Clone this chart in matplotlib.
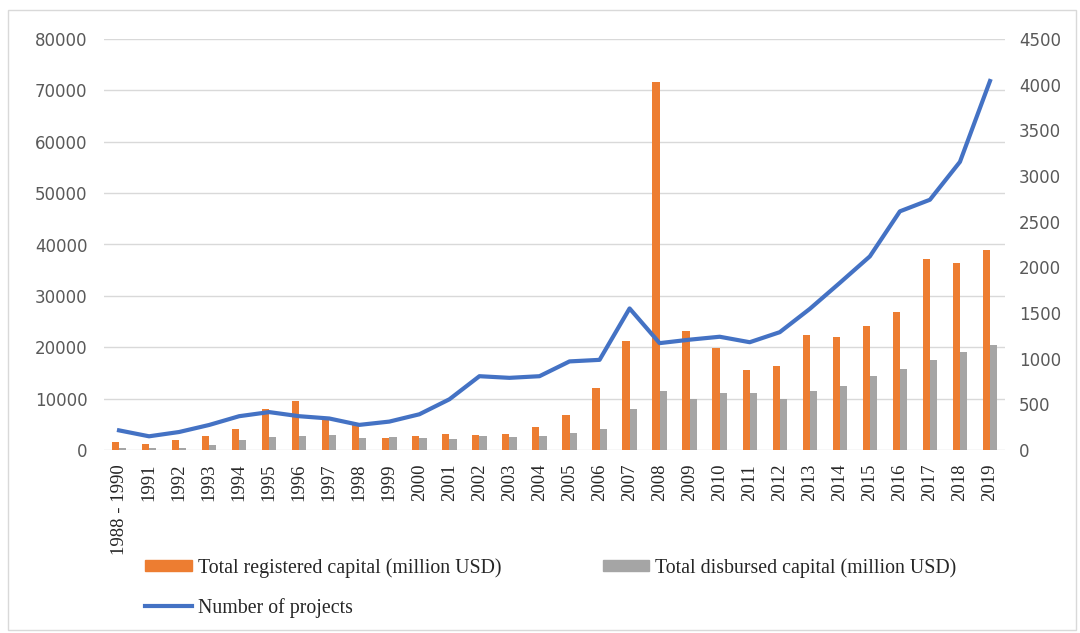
import matplotlib
matplotlib.use("Agg")
import matplotlib.pyplot as plt
import numpy as np
from matplotlib.lines import Line2D
from matplotlib.patches import Patch, Rectangle

years = ["1988 - 1990"] + [str(y) for y in range(1991, 2020)]
registered = [1600, 1200, 2000, 2800, 4100, 7900, 9600, 5800, 5100, 2300,
              2800, 3200, 2900, 3100, 4500, 6800, 12000, 21300, 71700, 23100,
              19900, 15600, 16300, 22400, 21900, 24100, 26900, 37100, 36400, 38900]
disbursed = [300, 300, 400, 1000, 2000, 2600, 2700, 3000, 2300, 2500,
             2400, 2200, 2800, 2600, 2800, 3300, 4100, 8000, 11500, 10000,
             11000, 11000, 10000, 11500, 12500, 14500, 15800, 17500, 19100, 20400]
projects = [215, 150, 197, 274, 370, 415, 370, 345, 275, 311,
            391, 555, 808, 790, 808, 970, 987, 1550, 1170, 1208,
            1240, 1180, 1290, 1545, 1830, 2120, 2613, 2740, 3155, 4040]

ORANGE = "#ED7D31"
GRAY = "#A5A5A5"
BLUE = "#4472C4"
TXT = "#595959"

fig = plt.figure(figsize=(10.8, 6.33), dpi=100)
fig.patches.append(Rectangle((8/1080, 3/633), 1 - 12/1080, 1 - 13/633,
                             transform=fig.transFigure, fill=False,
                             edgecolor="#D9D9D9", linewidth=1.0))
ax = fig.add_axes([104/1080, 1 - 450/633, (1005 - 104)/1080, (450 - 39)/633])
x = np.arange(len(years))
w = 0.24
ax.bar(x - w/2, registered, width=w, color=ORANGE, zorder=2)
ax.bar(x + w/2, disbursed, width=w, color=GRAY, zorder=2)
ax.set_xlim(-0.5, len(years) - 0.5)
ax.set_ylim(0, 80000)
ax.set_yticks(np.arange(0, 80001, 10000))
ax.yaxis.grid(True, color="#D9D9D9", linewidth=1.0, zorder=0)
ax.set_axisbelow(True)
for s in ax.spines.values():
    s.set_visible(False)
ax.tick_params(axis="y", length=0, labelsize=12, labelcolor=TXT, pad=12)
ax.tick_params(axis="x", length=0, pad=10)
ax.set_xticks(x)
ax.set_xticklabels(years, rotation=90, fontfamily="Liberation Serif",
                   fontsize=13.5, color="#262626")

ax2 = ax.twinx()
ax2.plot(x, projects, color=BLUE, linewidth=3.0, zorder=3)
ax2.set_ylim(0, 4500)
ax2.set_yticks(np.arange(0, 4501, 500))
for s in ax2.spines.values():
    s.set_visible(False)
ax2.tick_params(axis="y", length=0, labelsize=12, labelcolor=TXT, pad=10)

handles = [Patch(color=ORANGE), Line2D([0], [0], color=BLUE, linewidth=3),
           Patch(color=GRAY)]
labels = ["Total registered capital (million USD)", "Number of projects",
          "Total disbursed capital (million USD)"]
fig.legend(handles, labels, ncol=2, loc="upper left",
           bbox_to_anchor=(145/1080, 1 - 558/633), frameon=False,
           borderpad=0, borderaxespad=0,
           prop={"family": "Liberation Serif", "size": 14.3},
           handlelength=2.36, handleheight=0.45, handletextpad=0.3,
           columnspacing=5.1, labelspacing=1.0, labelcolor="#262626")

fig.savefig("out.png", dpi=100)
